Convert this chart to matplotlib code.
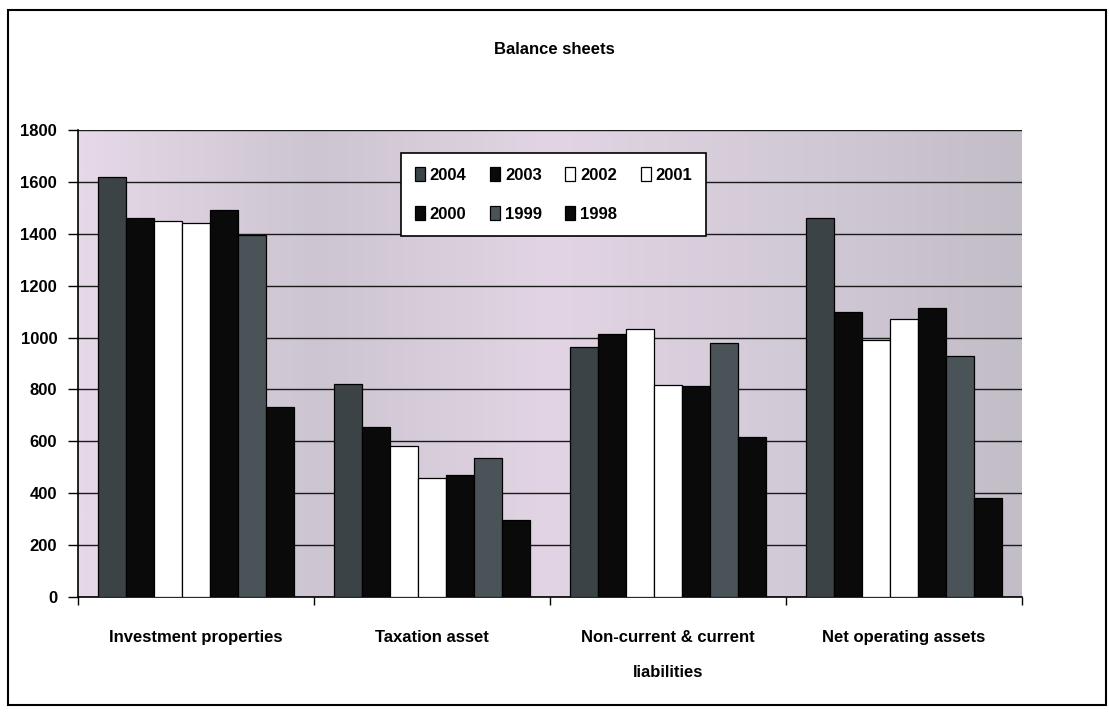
import matplotlib
matplotlib.use("Agg")
import matplotlib.pyplot as plt
import numpy as np
from matplotlib import font_manager
from matplotlib.colors import LinearSegmentedColormap
from matplotlib.patches import Rectangle

categories = ["Investment properties", "Taxation asset",
              "Non-current & current\nliabilities", "Net operating assets"]
years = ["2004", "2003", "2002", "2001", "2000", "1999", "1998"]
v2004 = [1620, 822, 965, 1460]
v2003 = [1462, 655, 1012, 1100]
v2002 = [1450, 582, 1032, 990]
v2001 = [1442, 458, 818, 1070]
v2000 = [1490, 470, 815, 1115]
v1999 = [1395, 537, 980, 928]
v1998 = [732, 297, 615, 380]
series = [v2004, v2003, v2002, v2001, v2000, v1999, v1998]
colors = ["#3b4347", "#0a0a0a", "#ffffff", "#ffffff", "#0a0a0a", "#4a5458", "#0a0a0a"]
yticks = [0, 200, 400, 600, 800, 1000, 1200, 1400, 1600, 1800]

names = {f.name for f in font_manager.fontManager.ttflist}
fam = "Liberation Sans Narrow" if "Liberation Sans Narrow" in names else "Liberation Sans"
plt.rcParams["font.family"] = [fam, "DejaVu Sans"]
plt.rcParams["font.weight"] = "bold"

fig = plt.figure(figsize=(11.09, 7.14), dpi=100)
ax = fig.add_axes([0.0703, 0.1639, 0.8512, 0.654])

# gradient background
cmap = LinearSegmentedColormap.from_list(
    "bg", ["#e6d8e8", "#cdc5d1", "#e2d4e4", "#d3cad7", "#c3bdc8"])
grad = np.linspace(0, 1, 256).reshape(1, -1)
ax.imshow(grad, extent=[-0.5, 3.5, 0, 1800], aspect="auto", cmap=cmap,
          zorder=0, interpolation="bicubic")

n = len(series)
bw = 0.83 / n
x = np.arange(len(categories))
handles = []
for i, (vals, c) in enumerate(zip(series, colors)):
    b = ax.bar(x - 0.415 + bw * (i + 0.5), vals, width=bw, color=c,
               edgecolor="black", linewidth=0.9, zorder=3, label=years[i])
    handles.append(b)

ax.set_xlim(-0.5, 3.5)
ax.set_ylim(0, 1800)
ax.set_yticks(yticks)
ax.set_yticklabels([str(t) for t in yticks], fontsize=12, fontweight="bold")
ax.yaxis.grid(True, color="#1a1a1a", linewidth=1.0, zorder=1)
ax.set_axisbelow(True)
ax.set_xticks([-0.5, 0.5, 1.5, 2.5, 3.5])
ax.set_xticklabels([])
ax.set_xticks(x, minor=True)
ax.set_xticklabels(categories, minor=True, fontsize=12, fontweight="bold",
                   linespacing=2.6, va="top")
ax.tick_params(axis="x", which="minor", length=0, pad=24)
ax.tick_params(axis="x", which="major", length=6, direction="out", width=1)
ax.tick_params(axis="y", length=7, direction="out", width=1, pad=8)
for s in ["top", "right"]:
    ax.spines[s].set_visible(False)
for s in ["left", "bottom"]:
    ax.spines[s].set_linewidth(1.2)
    ax.spines[s].set_color("black")

# row-wise legend order (matplotlib fills columns first)
order = [0, 4, 1, 5, 2, 6, 3]
leg = ax.legend([handles[k] for k in order], [years[k] for k in order],
                ncol=4, loc="upper left", bbox_to_anchor=(0.333, 0.968),
                frameon=True, fancybox=False, edgecolor="black",
                framealpha=1, handlelength=0.6, handleheight=0.9,
                handletextpad=0.3, columnspacing=1.4, borderpad=0.85,
                labelspacing=1.4, prop={"weight": "bold", "size": 12})
leg.get_frame().set_linewidth(1.2)
leg.set_zorder(5)

fig.text(0.5, 0.93, "Balance sheets", ha="center", va="center",
         fontsize=12, fontweight="bold")

fig.patches.append(Rectangle((0.007, 0.013), 0.99, 0.973, fill=False,
                             edgecolor="black", linewidth=1.5,
                             transform=fig.transFigure))

fig.savefig("out.png", dpi=100)
